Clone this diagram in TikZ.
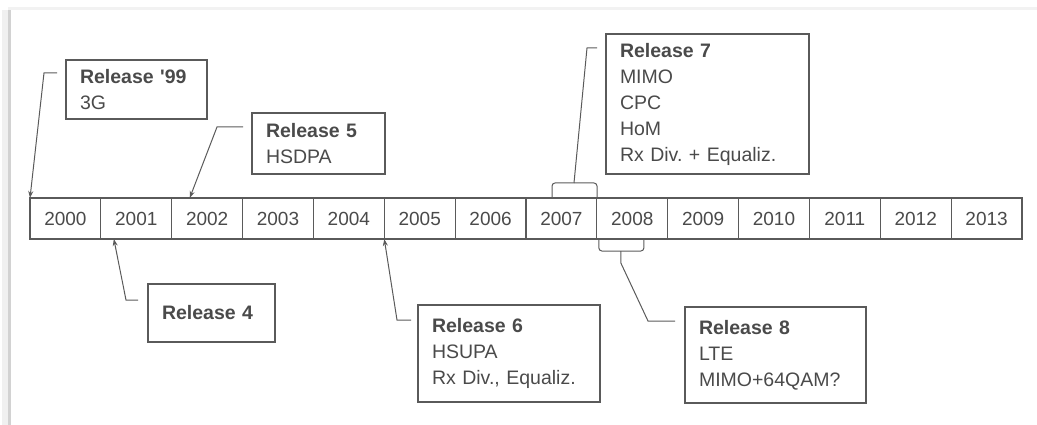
\documentclass[tikz,border=0pt]{standalone}
\usepackage{fontspec}
\setmainfont{Liberation Sans}
\usetikzlibrary{arrows.meta,calc}
\definecolor{linec}{HTML}{5A5A5A}
\definecolor{textc}{HTML}{4A4A4A}
\tikzset{
  cell/.style={draw=linec, line width=1.2pt, minimum width=70.857pt, minimum height=41pt, inner sep=0pt, outer sep=0pt, text=textc, font=\fontsize{19}{23}\selectfont},
  relbox/.style={draw=linec, line width=1.3pt, anchor=north west, inner xsep=14pt, inner ysep=0pt, outer sep=0pt, align=left, text=textc, font=\fontsize{19.5}{26}\selectfont\frenchspacing},
  conn/.style={draw=linec, line width=1pt},
  arr/.style={conn, -{Stealth[length=7pt,width=5pt]}},
}
\begin{document}
\begin{tikzpicture}[x=1pt,y=-1pt]
\useasboundingbox (0,0) rectangle (1037,425);
% frame shadow
\fill[gray!12] (2,10) rectangle (11,425);
\fill[gray!35] (7.5,10) rectangle (10.5,425);
\fill[gray!10] (8,7) rectangle (1037,10.5);
% timeline
\foreach \i in {0,...,13} {
  \pgfmathtruncatemacro\yr{2000+\i}
  \node[cell] (y\yr) at ({30+70.857*(\i+0.5)},218.5) {\yr};
}
% release boxes
\node[relbox, text width=113pt, minimum height=59pt] (r99) at (66,60) {\textbf{Release \textquotesingle 99}\\3G};
\node[relbox, text width=105pt, minimum height=61pt] (r5) at (252,113) {\textbf{Release 5}\\HSDPA};
\node[relbox, text width=99pt, minimum height=58pt] (r4) at (148,284) {\textbf{Release 4}};
\node[relbox, text width=154pt, minimum height=97pt] (r6) at (418,305) {\textbf{Release 6}\\HSUPA\\Rx Div., Equaliz.};
\node[relbox, text width=175pt, minimum height=140pt] (r7) at (606,34) {\textbf{Release 7}\\MIMO\\CPC\\HoM\\Rx Div. + Equaliz.};
\node[relbox, text width=153pt, minimum height=96pt] (r8) at (685,307) {\textbf{Release 8}\\LTE\\MIMO+64QAM?};
% connectors
\draw[arr] ($(r99.north west)+(-9,13)$) -- ++(-13,0) -- (y2000.north west);
\draw[arr] ($(r5.north west)+(-9,14)$) -- ++(-26,0) -- ($(y2002.north west)+(18,0)$);
\draw[arr] ($(r4.north west)+(-10,16)$) -- ++(-12,0) -- ($(y2001.south west)+(13,0)$);
\draw[arr] ($(r6.north west)+(-7,15)$) -- ++(-14,0) -- (y2005.south west);
% release 7 brace
\draw[conn, rounded corners=3pt] ($(y2007.north west)+(26,0)$) -- ($(y2007.north west)+(26,-15)$) -- ($(y2007.north west)+(71,-15)$) -- ($(y2007.north west)+(71,0)$);
\draw[conn] ($(y2007.north west)+(48,-15)$) -- ($(r7.north west)+(-19,14)$) -- ($(r7.north west)+(-9,14)$);
% release 8 brace
\draw[conn, rounded corners=3pt] ($(y2008.south west)+(2,0)$) -- ($(y2008.south west)+(2,12)$) -- ($(y2008.south west)+(47,12)$) -- ($(y2008.south west)+(47,0)$);
\draw[conn] ($(y2008.south west)+(24,12)$) -- ($(y2008.south west)+(24,24)$) -- ($(r8.north west)+(-37,14)$) -- ($(r8.north west)+(-10,14)$);
\end{tikzpicture}
\end{document}
